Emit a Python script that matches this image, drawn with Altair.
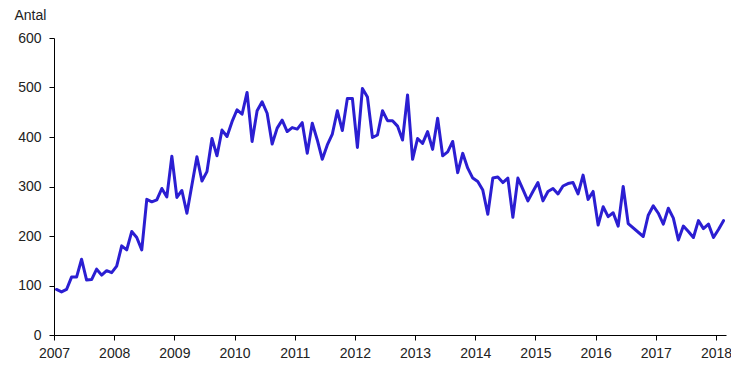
import altair as alt
import pandas as pd

# month index since Jan 2007 (0 = Jan 2007); Aug-Sep 2016 not present in the chart
month_index = [
    0, 1, 2, 3, 4, 5, 6, 7, 8, 9, 10, 11,
    12, 13, 14, 15, 16, 17, 18, 19, 20, 21, 22, 23,
    24, 25, 26, 27, 28, 29, 30, 31, 32, 33, 34, 35,
    36, 37, 38, 39, 40, 41, 42, 43, 44, 45, 46, 47,
    48, 49, 50, 51, 52, 53, 54, 55, 56, 57, 58, 59,
    60, 61, 62, 63, 64, 65, 66, 67, 68, 69, 70, 71,
    72, 73, 74, 75, 76, 77, 78, 79, 80, 81, 82, 83,
    84, 85, 86, 87, 88, 89, 90, 91, 92, 93, 94, 95,
    96, 97, 98, 99, 100, 101, 102, 103, 104, 105, 106, 107,
    108, 109, 110, 111, 112, 113, 114, 117, 118, 119,
    120, 121, 122, 123, 124, 125, 126, 127, 128, 129, 130, 131,
    132, 133,
]
antal = [
    92, 87, 92, 117, 117, 153, 111, 112, 133, 121, 130, 126,
    139, 180, 172, 209, 197, 172, 274, 269, 273, 296, 279, 361,
    278, 292, 246, 303, 360, 311, 330, 397, 362, 414, 401, 431,
    455, 446, 490, 391, 453, 471, 448, 386, 418, 434, 411, 419,
    416, 429, 367, 428, 394, 355, 384, 406, 453, 413, 478, 478,
    379, 498, 481, 399, 404, 453, 433, 433, 422, 394, 485, 355,
    397, 387, 411, 375, 438, 362, 370, 391, 328, 367, 337, 317,
    310, 293, 244, 317, 319, 308, 317, 238, 317, 294, 271, 290,
    308, 271, 290, 296, 285, 301, 306, 308, 285, 323, 274, 290,
    222, 259, 239, 247, 220, 300, 225, 199, 242, 261,
    246, 224, 256, 236, 192, 220, 209, 197, 231, 215, 224, 197,
    213, 231,
]
year_ticks = list(range(2007, 2019))
y_ticks = [0, 100, 200, 300, 400, 500, 600]

df = pd.DataFrame({
    "t": [2007 + (m + 0.5) / 12 for m in month_index],
    "antal": antal,
})

font = "Liberation Sans"

chart = (
    alt.Chart(df)
    .mark_line(color="#2B1ED2", strokeWidth=3, strokeJoin="round", strokeCap="round")
    .encode(
        x=alt.X(
            "t:Q",
            scale=alt.Scale(domain=[2007, 2018 + 2 / 12], nice=False, zero=False),
            axis=alt.Axis(
                values=year_ticks,
                format="d",
                title=None,
                grid=False,
                tickSize=5,
                labelPadding=6,
                labelFontSize=14,
                labelFont=font,
                labelColor="#222222",
                domainColor="#000000",
                tickColor="#000000",
                labelFlush=False,
                labelOverlap=False,
            ),
        ),
        y=alt.Y(
            "antal:Q",
            scale=alt.Scale(domain=[0, 600], nice=False),
            axis=alt.Axis(
                values=y_ticks,
                title="Antal",
                titleAngle=0,
                titleAlign="left",
                titleBaseline="alphabetic",
                titleX=-40,
                titleY=-19,
                titleFontSize=14,
                titleFontWeight="normal",
                titleFont=font,
                titleColor="#222222",
                grid=False,
                tickSize=5,
                labelPadding=8,
                labelFontSize=14,
                labelFont=font,
                labelColor="#222222",
                domainColor="#000000",
                tickColor="#000000",
            ),
        ),
    )
    .properties(
        width=672,
        height=297,
        autosize=alt.AutoSizeParams(type="none"),
        padding={"left": 46, "top": 30, "right": 5, "bottom": 26},
    )
    .configure_view(stroke=None)
)

chart.save("out.html", embed_options={"renderer": "svg", "actions": False})
